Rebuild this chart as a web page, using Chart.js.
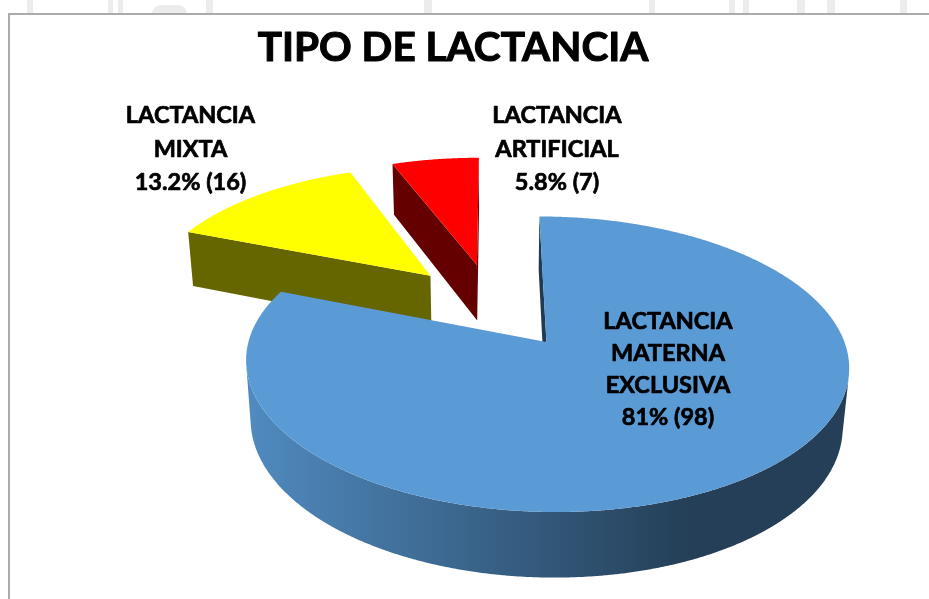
<!DOCTYPE html>
<html><head><meta charset="utf-8">
<script src="https://cdn.jsdelivr.net/npm/chart.js@4/dist/chart.umd.min.js"></script>
<style>
html,body{margin:0;padding:0;background:#fff;}
#wrap{position:relative;width:929px;height:599px;overflow:hidden;background:#fff;}
.bg{position:absolute;top:0;height:14px;background:#ececec;}
#frame{position:absolute;left:8px;top:13px;width:940px;height:600px;border-left:2px solid #ababab;border-top:2px solid #ababab;background:#fff;}
canvas{position:absolute;left:0;top:0;}
</style></head><body>
<div id="wrap">
  <div class="bg" style="left:27px;width:6px"></div>
  <div class="bg" style="left:108px;width:5px"></div>
  <div class="bg" style="left:118px;width:5px"></div>
  <div class="bg" style="left:152px;width:35px;top:5px;height:9px;border-radius:12px 12px 0 0"></div>
  <div class="bg" style="left:206px;width:7px"></div>
  <div class="bg" style="left:424px;width:8px"></div>
  <div class="bg" style="left:649px;width:6px"></div>
  <div class="bg" style="left:729px;width:6px"></div>
  <div class="bg" style="left:743px;width:6px"></div>
  <div class="bg" style="left:797px;width:8px"></div>
  <div class="bg" style="left:827px;width:8px"></div>
  <div class="bg" style="left:900px;width:7px"></div>
  <div id="frame"></div>
  <canvas id="chart" width="929" height="599"></canvas>
</div>
<script>
// ---- data ----
const categories = ['LACTANCIA MATERNA EXCLUSIVA', 'LACTANCIA MIXTA', 'LACTANCIA ARTIFICIAL'];
const labelLines = [['LACTANCIA', 'MATERNA', 'EXCLUSIVA'], ['LACTANCIA', 'MIXTA'], ['LACTANCIA', 'ARTIFICIAL']];
const counts = [98, 16, 7];
const percentText = ['81%', '13.2%', '5.8%'];
const titleText = 'TIPO DE LACTANCIA';

// ---- styles ----
const topColors = ['#5B9BD5', '#FFFF00', '#FF0000'];
const sideStyles = [
  {gradient: ['#508ABF', '#243F57'], gx0: 250, gx1: 690, face: '#1F3A52'},
  {color: '#666600', face: '#666600'},
  {color: '#650000', face: '#650000'}
];
const labelLayout = [
  {x: 668, y: 328.5, lh: 32},
  {x: 190.5, y: 123, lh: 33.5},
  {x: 557, y: 123, lh: 33.5}
];
const titleFont = {family: 'Lato', size: 40.5, weight: 'bold'};
const titlePad = {top: 24, bottom: 10};
// 3D view (perspective camera looking down at the pie)
const view = {cx: 492.8, cy: 305.2, f: 1748, sin: 0.466, cos: 0.885, d0: 1830, depth: 69};

function project(u, v, z) {
  const Y = v * view.sin - z * view.cos;
  const Z = view.d0 - v * view.cos - z * view.sin;
  return [view.cx + view.f * u / Z, view.cy + view.f * Y / Z];
}
const camV = view.d0 * view.cos;

function poly(ctx, pts) {
  ctx.beginPath();
  pts.forEach((p, k) => k ? ctx.lineTo(p[0], p[1]) : ctx.moveTo(p[0], p[1]));
  ctx.closePath();
  ctx.fill();
}

const pie3d = {
  id: 'pie3d',
  beforeDatasetsDraw(chart) {
    const ctx = chart.ctx;
    const meta = chart.getDatasetMeta(0);
    const h = view.depth;
    const slices = meta.data.map((arc, i) => {
      const p = arc.getProps(['startAngle', 'endAngle', 'outerRadius'], true);
      const off = arc.options.offset || 0;
      const mid = (p.startAngle + p.endAngle) / 2;
      return {i, a0: p.startAngle, a1: p.endAngle, r: p.outerRadius,
              cu: off * Math.cos(mid), cv: off * Math.sin(mid)};
    });
    slices.sort((a, b) => a.cv - b.cv); // far slices first
    slices.forEach(s => {
      const st = sideStyles[s.i];
      let sideFill;
      if (st.gradient) {
        const g = ctx.createLinearGradient(st.gx0, 0, st.gx1, 0);
        g.addColorStop(0, st.gradient[0]);
        g.addColorStop(1, st.gradient[1]);
        sideFill = g;
      } else sideFill = st.color;
      const rim = (t, z) => project(s.cu + s.r * Math.cos(t), s.cv + s.r * Math.sin(t), z);
      const ctr = z => project(s.cu, s.cv, z);
      ctx.save();
      const startN = [Math.sin(s.a0), -Math.cos(s.a0)];
      const endN = [-Math.sin(s.a1), Math.cos(s.a1)];
      const vis = n => n[0] * (0 - s.cu) + n[1] * (camV - s.cv) > 0;
      ctx.fillStyle = st.face;
      if (vis(startN)) poly(ctx, [ctr(0), rim(s.a0, 0), rim(s.a0, -h), ctr(-h)]);
      if (vis(endN)) poly(ctx, [ctr(0), rim(s.a1, 0), rim(s.a1, -h), ctr(-h)]);
      const N = Math.max(8, Math.ceil((s.a1 - s.a0) / 0.005));
      let run = [];
      const flush = () => {
        if (run.length > 1) {
          const pts = run.map(t => rim(t, 0)).concat(run.slice().reverse().map(t => rim(t, -h)));
          ctx.fillStyle = sideFill;
          poly(ctx, pts);
        }
        run = [];
      };
      for (let k = 0; k <= N; k++) {
        const t = s.a0 + (s.a1 - s.a0) * k / N;
        const d = -s.cu * Math.cos(t) + (camV - s.cv) * Math.sin(t) - s.r;
        if (d > 0) run.push(t); else flush();
      }
      flush();
      const pts = [ctr(0)];
      for (let k = 0; k <= N; k++) pts.push(rim(s.a0 + (s.a1 - s.a0) * k / N, 0));
      ctx.fillStyle = topColors[s.i];
      poly(ctx, pts);
      ctx.restore();
    });
    return false;
  },
  afterDraw(chart) {
    const ctx = chart.ctx;
    ctx.save();
    ctx.fillStyle = '#000';
    ctx.strokeStyle = '#000';
    ctx.lineJoin = 'round';
    // thicken the title strokes (Calibri-like heavy bold)
    const tb = chart.titleBlock;
    if (tb) {
      ctx.font = 'bold ' + titleFont.size + 'px ' + titleFont.family;
      ctx.textAlign = 'center';
      ctx.textBaseline = 'middle';
      ctx.lineWidth = 1.1;
      ctx.strokeText(titleText, tb.left + tb.width / 2, tb.top + titlePad.top + titleFont.size * 1.2 / 2);
    }
    ctx.font = 'bold 23.5px Lato';
    ctx.textAlign = 'center';
    ctx.textBaseline = 'alphabetic';
    ctx.lineWidth = 0.7;
    counts.forEach((c, i) => {
      const lines = labelLines[i].concat([percentText[i] + ' (' + c + ')']);
      const L = labelLayout[i];
      lines.forEach((t, k) => {
        ctx.fillText(t, L.x, L.y + k * L.lh);
        ctx.strokeText(t, L.x, L.y + k * L.lh);
      });
    });
    ctx.restore();
  }
};

new Chart(document.getElementById('chart'), {
  type: 'pie',
  data: {
    labels: categories,
    datasets: [{data: counts, backgroundColor: topColors, borderWidth: 0, offset: 96, radius: 300, clip: false}]
  },
  options: {
    responsive: false,
    animation: false,
    events: [],
    layout: {padding: {left: 0, right: 23, top: 0, bottom: 0}},
    plugins: {
      legend: {display: false},
      tooltip: {enabled: false},
      title: {display: true, text: titleText, color: '#000', font: titleFont, padding: titlePad}
    }
  },
  plugins: [pie3d]
});
</script>
</body></html>
